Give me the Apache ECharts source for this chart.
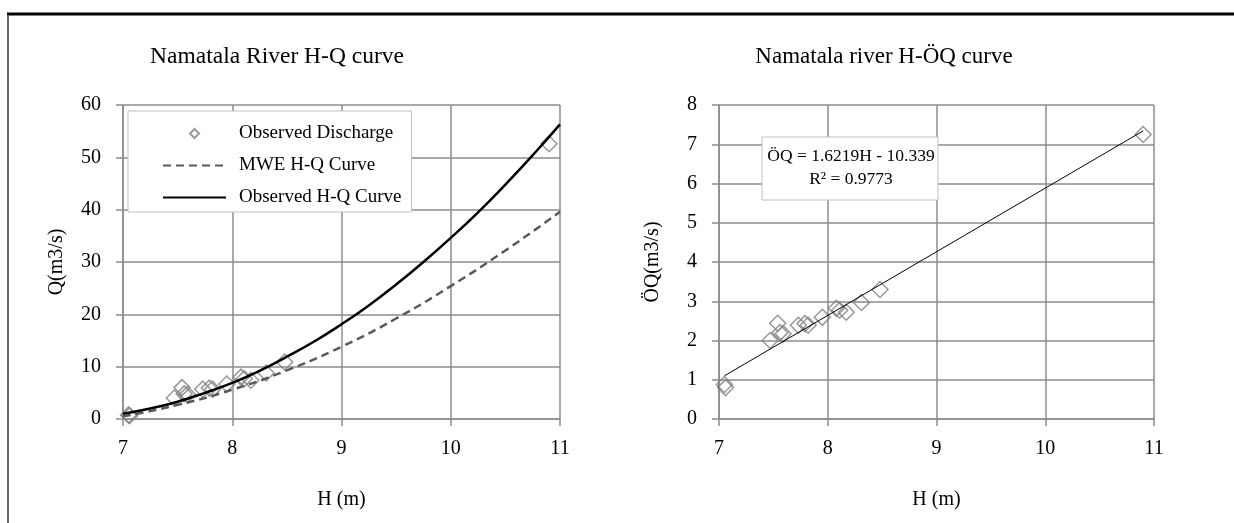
<!DOCTYPE html>
<html><head><meta charset="utf-8">
<script src="https://cdn.jsdelivr.net/npm/echarts@6/dist/echarts.min.js"></script>
<style>html,body{margin:0;padding:0;background:#fff}#c{width:1234px;height:523px}</style>
</head><body><div id="c"></div>
<script>
// Observed points (H in m)
const obsH     = [7.05, 7.06, 7.47, 7.54, 7.56, 7.59, 7.73, 7.79, 7.82, 7.95, 8.08, 8.11, 8.17, 8.31, 8.48, 10.9];
// Observed discharge Q (m3/s), left chart
const obsQ     = [0.78, 0.64, 4.0, 6.0, 4.8, 4.7, 5.7, 5.9, 5.7, 6.7, 8.0, 7.7, 7.4, 8.8, 10.9, 52.6];
// Square root of Q, right chart
const obsSqrtQ = [0.88, 0.80, 2.0, 2.44, 2.2, 2.17, 2.39, 2.43, 2.39, 2.59, 2.82, 2.77, 2.72, 2.97, 3.3, 7.25];
// Observed H-Q curve
const curveH   = [7, 7.25, 7.5, 7.75, 8, 8.25, 8.5, 8.75, 9, 9.25, 9.5, 9.75, 10, 10.25, 10.5, 10.75, 11];
const curveQ   = [1.0, 2.0, 3.3, 5.0, 6.9, 9.2, 11.9, 14.8, 18.1, 21.7, 25.7, 30.0, 34.6, 39.5, 44.8, 50.4, 56.3];
// MWE H-Q curve
const mweH     = [7, 7.5, 8, 8.5, 9, 9.5, 10, 10.5, 11];
const mweQ     = [0.5, 2.7, 5.6, 9.3, 13.8, 19.2, 25.4, 32.2, 39.6];
// Linear trend line on right chart
const trendH   = [7.05, 10.9];
const trendQ   = [1.1, 7.34];
// Texts
const titleLeft  = 'Namatala River H-Q curve';
const titleRight = 'Namatala river H-ÖQ curve';
const eqLine1 = 'ÖQ = 1.6219H - 10.339';
const eqLine2 = 'R² = 0.9773';

const zip = (a, b) => a.map((v, i) => [v, b[i]]);
const FONT = "'Liberation Serif', 'Times New Roman', serif";
const GRID = '#8c8c8c';
// small diamond centred in a 63x9 legend slot (empty moves keep the slot width)
const LEGEND_DIAMOND = 'path://M0,4.5L0,4.5M31.5,0L36,4.5L31.5,9L27,4.5ZM63,4.5L63,4.5';

function xAx(idx) {
  return {
    type: 'value', gridIndex: idx, min: 7, max: 11, interval: 1,
    name: 'H (m)', nameLocation: 'middle', nameGap: 71,
    nameTextStyle: { fontFamily: FONT, fontSize: 20, color: '#000' },
    axisLine: { show: true, onZero: false, lineStyle: { color: GRID, width: 1.5 } },
    axisTick: { show: true, inside: false, length: 7, lineStyle: { color: GRID, width: 1.5 } },
    axisLabel: { fontFamily: FONT, fontSize: 20, color: '#000', margin: 20 },
    splitLine: { show: true, lineStyle: { color: GRID, width: 1.5 } }
  };
}
function yAx(idx, max, name) {
  return {
    type: 'value', gridIndex: idx, min: 0, max: max, interval: max === 60 ? 10 : 1,
    name: name, nameLocation: 'middle', nameGap: 56,
    nameTextStyle: { fontFamily: FONT, fontSize: 20, color: '#000' },
    axisLine: { show: true, onZero: false, lineStyle: { color: GRID, width: 1.5 } },
    axisTick: { show: true, inside: false, length: 7, lineStyle: { color: GRID, width: 1.5 } },
    axisLabel: { fontFamily: FONT, fontSize: 20, color: '#000', margin: 22 },
    splitLine: { show: true, lineStyle: { color: GRID, width: 1.5 } }
  };
}

const chart = echarts.init(document.getElementById('c'), null, { renderer: 'canvas' });
chart.setOption({
  animation: false,
  backgroundColor: '#fff',
  grid: [
    { left: 123, right: 1234 - 560, top: 105, bottom: 523 - 419 },
    { left: 719, right: 1234 - 1154, top: 105, bottom: 523 - 419 }
  ],
  xAxis: [xAx(0), xAx(1)],
  yAxis: [yAx(0, 60, 'Q(m3/s)'), yAx(1, 8, 'ÖQ(m3/s)')],
  legend: {
    left: 128, top: 111, orient: 'vertical',
    data: [
      { name: 'Observed Discharge', icon: LEGEND_DIAMOND },
      { name: 'MWE H-Q Curve', itemStyle: { opacity: 0 } },
      { name: 'Observed H-Q Curve', itemStyle: { opacity: 0 } }
    ],
    itemWidth: 63, itemHeight: 9, itemGap: 13,
    padding: [13, 10, 5, 34],
    backgroundColor: '#fff', borderColor: '#c0c0c0', borderWidth: 1,
    textStyle: { fontFamily: FONT, fontSize: 19, color: '#000', padding: [0, 0, 0, 8] },
    selectedMode: false
  },
  series: [
    {
      name: 'Observed Discharge', type: 'scatter', xAxisIndex: 0, yAxisIndex: 0,
      data: zip(obsH, obsQ), symbol: 'diamond', symbolSize: 16,
      itemStyle: { color: 'rgba(255,255,255,0)', borderColor: '#7f7f7f', borderWidth: 1.5 },
      z: 2
    },
    {
      name: 'MWE H-Q Curve', type: 'line', xAxisIndex: 0, yAxisIndex: 0,
      data: zip(mweH, mweQ), smooth: true, showSymbol: false, symbol: 'none',
      lineStyle: { color: '#595959', width: 2.5, type: [8, 5] },
      itemStyle: { color: '#595959' }, z: 3
    },
    {
      name: 'Observed H-Q Curve', type: 'line', xAxisIndex: 0, yAxisIndex: 0,
      data: zip(curveH, curveQ), smooth: true, showSymbol: false, symbol: 'none',
      lineStyle: { color: '#000', width: 2.5 },
      itemStyle: { color: '#000' }, z: 4
    },
    {
      name: 'sqrtObs', type: 'scatter', xAxisIndex: 1, yAxisIndex: 1,
      data: zip(obsH, obsSqrtQ), symbol: 'diamond', symbolSize: 16,
      itemStyle: { color: 'rgba(255,255,255,0)', borderColor: '#7f7f7f', borderWidth: 1.5 },
      z: 2
    },
    {
      name: 'trend', type: 'line', xAxisIndex: 1, yAxisIndex: 1,
      data: zip(trendH, trendQ), showSymbol: false, symbol: 'none',
      lineStyle: { color: '#000', width: 1 }, z: 3
    }
  ],
  graphic: [
    { type: 'line', shape: { x1: 7, y1: 14, x2: 1234, y2: 14 }, style: { stroke: '#000', lineWidth: 3 } },
    { type: 'line', shape: { x1: 8, y1: 14, x2: 8, y2: 523 }, style: { stroke: '#333', lineWidth: 1.5 } },
    { type: 'text', x: 277, y: 57, style: { text: titleLeft, font: '23.5px ' + FONT, fill: '#000', textAlign: 'center', textVerticalAlign: 'middle' } },
    { type: 'text', x: 884, y: 57, style: { text: titleRight, font: '23px ' + FONT, fill: '#000', textAlign: 'center', textVerticalAlign: 'middle' } },
    { type: 'rect', shape: { x: 762, y: 137, width: 176, height: 63 }, style: { fill: '#fff', stroke: '#c0c0c0', lineWidth: 1 }, z: 10 },
    { type: 'text', x: 851, y: 156, z: 11, style: { text: eqLine1, font: '17.5px ' + FONT, fill: '#000', textAlign: 'center', textVerticalAlign: 'middle' } },
    { type: 'text', x: 851, y: 179, z: 11, style: { text: eqLine2, font: '17.5px ' + FONT, fill: '#000', textAlign: 'center', textVerticalAlign: 'middle' } }
  ]
});
</script></body></html>
